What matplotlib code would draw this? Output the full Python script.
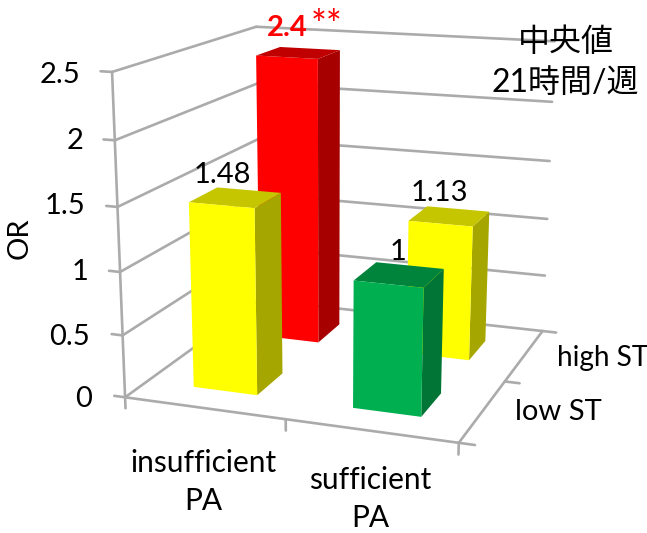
import numpy as np
import matplotlib
matplotlib.use("Agg")
import matplotlib.pyplot as plt
from mpl_toolkits.mplot3d import Axes3D  # noqa: F401
from mpl_toolkits.mplot3d.art3d import Poly3DCollection

# Odds ratios by physical activity (PA) and sitting time (ST)
pa_labels = ["insufficient\nPA", "sufficient\nPA"]
st_labels = ["low ST", "high ST"]
or_low_st = [1.48, 1.0]
or_high_st = [2.4, 1.13]
z_ticks = [0, 0.5, 1, 1.5, 2, 2.5]
z_tick_labels = ["0", "0.5", "1", "1.5", "2", "2.5"]

W, H = 647, 533
fig = plt.figure(figsize=(W / 100, H / 100), dpi=100, facecolor="white")
ax = fig.add_axes([0, 0, 1, 1], projection="3d")
ax.set_axis_off()
ax.computed_zorder = False
ax.set_xlim(0, 2)
ax.set_ylim(0, 2)
ax.set_zlim(0, 2.5)

# Camera calibration: box corners and where they land on the canvas
box_corners = np.array([(0, 0, 0), (2, 0, 0), (2, 2, 0), (0, 2, 0),
                        (0, 0, 2.5), (0, 2, 2.5), (2, 2, 2.5)], float)
canvas_corners = np.array([(124, 398), (459, 442), (542, 332), (261, 299),
                           (113, 72), (255, 27), (555, 41)], float)


def pinned_projection():
    display = np.column_stack([canvas_corners[:, 0], H - canvas_corners[:, 1]])
    uv = ax.transData.inverted().transform(display)
    rows = []
    for (X, Y, Z), (u, v) in zip(box_corners, uv):
        rows.append([X, Y, Z, 1, 0, 0, 0, 0, -u * X, -u * Y, -u * Z, -u])
        rows.append([0, 0, 0, 0, X, Y, Z, 1, -v * X, -v * Y, -v * Z, -v])
    P = np.linalg.svd(np.array(rows))[2][-1].reshape(3, 4)
    P = P / P[2, 3]
    return np.vstack([P[0], P[1], [0, 0, 0, -0.5], P[2]])


ax.get_proj = pinned_projection

GRID = "#ababab"
line_kw = dict(color=GRID, lw=1.9, clip_on=False, zorder=1, solid_capstyle="round")

# Walls: gridlines on the left and back planes
for z in z_ticks:
    ax.plot([0, 0], [0, 2], [z, z], **line_kw)
    ax.plot([0, 2], [2, 2], [z, z], **line_kw)
    ax.plot([-0.07, 0], [0, 0], [z, z], **line_kw)
ax.plot([0, 0], [0, 0], [0, 2.5], **line_kw)

# Floor outline and its ticks
ax.plot([0, 2], [0, 0], [0, 0], **line_kw)
ax.plot([2, 2], [0, 2], [0, 0], **line_kw)
for x in (0, 1, 2):
    ax.plot([x, x], [0, 0], [0, -0.09], **line_kw)
for y in (0, 1, 2):
    ax.plot([2, 2.09], [y, y], [0, 0], **line_kw)


def draw_bar(x0, x1, y0, y1, height, front, top, side, order):
    faces = [
        [(x0, y0, 0), (x1, y0, 0), (x1, y0, height), (x0, y0, height)],
        [(x1, y0, 0), (x1, y1, 0), (x1, y1, height), (x1, y0, height)],
        [(x0, y0, height), (x1, y0, height), (x1, y1, height), (x0, y1, height)],
    ]
    poly = Poly3DCollection(faces, facecolors=[front, side, top], edgecolors="none",
                            linewidths=0, zorder=order)
    ax.add_collection3d(poly)


RED = ("#ff0000", "#c00000", "#a60000")
YELLOW = ("#ffff00", "#c6c600", "#a6a600")
GREEN = ("#00b050", "#00843c", "#007535")

bar_x = [(0.30, 0.705), (1.295, 1.70)]
bar_y = [(0.29, 0.68), (1.29, 1.68)]

draw_bar(*bar_x[0], *bar_y[1], or_high_st[0], *RED, 3)
draw_bar(*bar_x[1], *bar_y[1], or_high_st[1], *YELLOW, 3)
draw_bar(*bar_x[0], *bar_y[0], or_low_st[0], *YELLOW, 4)
draw_bar(*bar_x[1], *bar_y[0], or_low_st[1], *GREEN, 4)


def label(px, py, text, **kw):
    kw.setdefault("family", ["Lato", "Noto Sans CJK JP"])
    kw.setdefault("ha", "center")
    kw.setdefault("va", "center")
    kw.setdefault("fontsize", 21)
    kw.setdefault("color", "black")
    fig.text(px / W, 1 - py / H, text, **kw)


tick_right = [92, 90, 88, 85, 83, 80]
tick_rows = [399, 337, 272, 206, 141, 75]
for tick, px, py in zip(z_tick_labels, tick_right, tick_rows):
    label(px, py, tick, ha="right")

label(20, 238, "OR", rotation=90)
label(203, 482, pa_labels[0], linespacing=1.42, fontsize=21.5)
label(370, 499, pa_labels[1], linespacing=1.42, fontsize=21.5)
label(515, 412, st_labels[0], ha="left", fontsize=21)
label(557, 358, st_labels[1], ha="left", fontsize=20.2)

label(222, 175, f"{or_low_st[0]:g}")
label(439, 193, f"{or_high_st[1]:g}")
label(398, 252, f"{or_low_st[1]:g}")
label(287, 28, f"{or_high_st[0]:g}", color="#ff0000", fontweight="bold")
label(327, 27, "**", color="#ff0000", fontsize=27)

label(566, 42, "中央値", fontsize=23)
label(565, 83, "21時間/週", fontsize=23)

fig.savefig("out.png", dpi=100, facecolor="white")
